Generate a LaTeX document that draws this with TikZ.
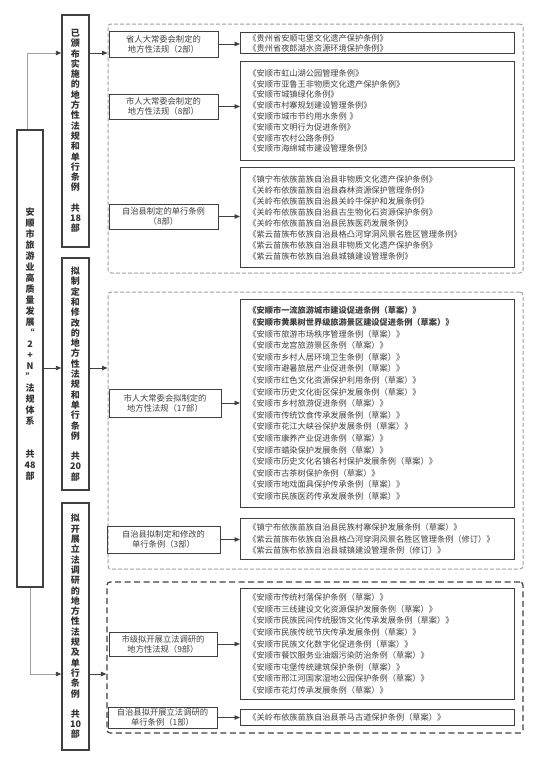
\documentclass[tikz,border=0pt]{standalone}
\usepackage{fontspec}
\newfontfamily\cjk{Noto Sans CJK SC}
\usetikzlibrary{arrows.meta,positioning}
\definecolor{ink}{RGB}{64,64,64}
\definecolor{rule}{RGB}{160,160,160}
\tikzset{
  bigbox/.style  = {draw=ink, line width=1.4pt, fill=white, minimum width=27pt, inner sep=0pt,
                    align=center, text=ink!80!black, font=\cjk\bfseries\fontsize{9}{10.3}\selectfont},
  midbox/.style  = {draw=ink, line width=1pt, minimum width=109pt, inner xsep=1pt, inner ysep=0pt,
                    align=center, text=ink, font=\cjk\fontsize{8.3}{10}\selectfont},
  listbox/.style = {draw=ink, line width=0.9pt, anchor=north west, text width=258pt, inner xsep=8pt,
                    inner ysep=0pt, align=left, text=ink, font=\cjk\fontsize{8.2}{#1}\selectfont},
  listbox/.default = 11,
  group/.style   = {draw=rule, line width=1pt, dash pattern=on 4pt off 2pt, rounded corners=3pt},
  vec/.style     = {-{Triangle[length=5.5pt,width=4.5pt]}, line width=0.9pt, draw=ink},
  feed/.style    = {-{Triangle[length=5.5pt,width=4.5pt,color=ink]}, line width=0.9pt, draw=rule},
}

\begin{document}
\begin{tikzpicture}[x=1pt,y=-1pt]
  \useasboundingbox (0,0) rectangle (540,764);
  % dashed groups
  \node[group, minimum width=415pt, minimum height=249pt] (g1) at (315.5,148.5) {};
  \node[group, minimum width=415pt, minimum height=277pt] (g2) at (315.5,430.5) {};
  \node[group, draw=ink, line width=1.2pt, dash pattern=on 6pt off 3.5pt,
        minimum width=416pt, minimum height=151pt] (g3) at (315,657.5) {};
  % root and the three columns
  \node[bigbox, minimum width=26pt, minimum height=457pt] (root) at (30,358.5) {};
  \node[bigbox, draw=none, fill=none, font=\cjk\bfseries\fontsize{9}{11}\selectfont] (roottxt) at (30,344)
    {安\\顺\\市\\旅\\游\\业\\高\\质\\量\\发\\展\\“\\2\\+\\N\\”\\法\\规\\体\\系\\[22pt]共\\48\\部};
  \node[bigbox, minimum height=232pt] (b1) at (75.5,131)
    {已\\颁\\布\\实\\施\\的\\地\\方\\性\\法\\规\\和\\单\\行\\条\\例\\[10pt]共\\18\\部};
  \node[bigbox, minimum height=232pt] (b2) at (75.5,374)
    {拟\\制\\定\\和\\修\\改\\的\\地\\方\\性\\法\\规\\和\\单\\行\\条\\例\\[10pt]共\\20\\部};
  \node[bigbox, minimum height=247pt] (b3) at (75.5,626.5)
    {拟\\开\\展\\立\\法\\调\\研\\的\\地\\方\\性\\法\\规\\及\\单\\行\\条\\例\\[10pt]共\\10\\部};
  \coordinate (k1) at (27,53);
  \coordinate (k2) at (30,674);
  \coordinate (k3) at (43,368);
  \draw[feed] (root.north -| k1) |- (b1.west |- k1);
  \draw[vec] (root.east |- k3) -- (b2.west |- k3);
  \draw[feed] (root.south -| k2) |- (b3.west |- k2);
  \draw[vec] (b1.east |- k1) -- (g1.west |- k1);
  \draw[vec] (b2.east |- k3) -- (g2.west |- k3);
  \draw[vec] (b3.east |- k2) -- (g3.west |- k2);
  % group 1
  \node[midbox, minimum height=26pt] (sheng) at (163.5,44) {省人大常委会制定的\\地方性法规（2部）};
  \node[midbox, minimum height=25pt] (shi) at (163.5,106.5) {市人大常委会制定的\\地方性法规（8部）};
  \node[midbox, minimum height=25pt] (zizhi) at (163.5,216.5) {自治县制定的单行条例\\（8部）};
  \node[listbox=10, minimum height=21.6pt] (l1) at (240,31.7)
    {《贵州省安顺屯堡文化遗产保护条例》\\
     《贵州省夜郎湖水资源环境保护条例》};
  \node[listbox=10.8, minimum height=99pt] (l2) at (240,61)
    {《安顺市虹山湖公园管理条例》\\
     《安顺市亚鲁王非物质文化遗产保护条例》\\
     《安顺市城镇绿化条例》\\
     《安顺市村寨规划建设管理条例》\\
     《安顺市城市节约用水条例 》\\
     《安顺市文明行为促进条例》\\
     《安顺市农村公路条例》\\
     《安顺市海绵城市建设管理条例》};
  \node[listbox=11, minimum height=100pt] (l3) at (240,167)
    {《镇宁布依族苗族自治县非物质文化遗产保护条例》\\
     《关岭布依族苗族自治县森林资源保护管理条例》\\
     《关岭布依族苗族自治县关岭牛保护和发展条例》\\
     《关岭布依族苗族自治县古生物化石资源保护条例》\\
     《关岭布依族苗族自治县民族医药发展条例》\\
     《紫云苗族布依族自治县格凸河穿洞风景名胜区管理条例》\\
     《紫云苗族布依族自治县非物质文化遗产保护条例》\\
     《紫云苗族布依族自治县城镇建设管理条例》};
  \draw[vec] (sheng.east) -- (sheng.east -| l1.west);
  \draw[vec] (shi.east) -- (shi.east -| l2.west);
  \draw[vec] (zizhi.east) -- (zizhi.east -| l3.west);
  % group 2
  \node[midbox, minimum width=112pt, minimum height=28pt] (shini) at (165,403) {市人大常委会拟制定的\\地方性法规（17部）};
  \node[midbox, minimum width=113pt, minimum height=27pt] (zizhini) at (163.5,539.5) {自治县拟制定和修改的\\单行条例（3部）};
  \node[listbox=11.6, minimum height=208pt] (l4) at (240,299)
    {\textbf{《安顺市一流旅游城市建设促进条例（草案）》}\\
     \textbf{《安顺市黄果树世界级旅游景区建设促进条例（草案）》}\\
     《安顺市旅游市场秩序管理条例（草案）》\\
     《安顺市龙宫旅游景区条例（草案）》\\
     《安顺市乡村人居环境卫生条例（草案）》\\
     《安顺市避暑旅居产业促进条例（草案）》\\
     《安顺市红色文化资源保护利用条例（草案）》\\
     《安顺市历史文化街区保护发展条例（草案）》\\
     《安顺市乡村旅游促进条例（草案）》\\
     《安顺市传统饮食传承发展条例（草案）》\\
     《安顺市花江大峡谷保护发展条例（草案）》\\
     《安顺市康养产业促进条例（草案）》\\
     《安顺市蜡染保护发展条例（草案）》\\
     《安顺市历史文化名镇名村保护发展条例（草案）》\\
     《安顺市古茶树保护条例（草案）》\\
     《安顺市地戏面具保护传承条例（草案）》\\
     《安顺市民族医药传承发展条例（草案）》};
  \node[listbox=11.2, minimum height=41pt] (l5) at (240,518)
    {《镇宁布依族苗族自治县民族村寨保护发展条例（草案）》\\
     《紫云苗族布依族自治县格凸河穿洞风景名胜区管理条例（修订）》\\
     《紫云苗族布依族自治县城镇建设管理条例（修订）》};
  \draw[vec] (shini.east) -- (shini.east -| l4.west);
  \draw[vec] (zizhini.east) -- (zizhini.east -| l5.west);
  % group 3
  \node[midbox, minimum width=108pt, minimum height=24pt] (shidiao) at (163,644) {市级拟开展立法调研的\\地方性法规（9部）};
  \node[midbox, minimum height=21pt] (zizhidiao) at (162.5,717.5) {自治县拟开展立法调研的\\单行条例（1部）};
  \node[listbox=11.6, minimum height=111pt] (l6) at (240,588)
    {《安顺市传统村落保护条例（草案）》\\
     《安顺市三线建设文化资源保护发展条例（草案）》\\
     《安顺市民族民间传统服饰文化传承发展条例（草案）》\\
     《安顺市民族传统节庆传承发展条例（草案）》\\
     《安顺市民族文化数字化促进条例（草案）》\\
     《安顺市餐饮服务业油烟污染防治条例（草案）》\\
     《安顺市屯堡传统建筑保护条例（草案）》\\
     《安顺市邢江河国家湿地公园保护条例（草案）》\\
     《安顺市花灯传承发展条例（草案）》};
  \node[listbox, minimum height=16pt] (l7) at (240,709)
    {《关岭布依族苗族自治县茶马古道保护条例（草案）》};
  \draw[vec] (shidiao.east) -- (shidiao.east -| l6.west);
  \draw[vec] (zizhidiao.east) -- (zizhidiao.east -| l7.west);
\end{tikzpicture}
\end{document}
